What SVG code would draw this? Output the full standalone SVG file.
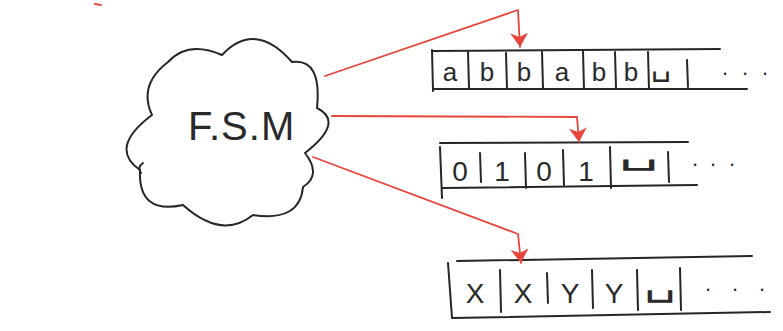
<svg xmlns="http://www.w3.org/2000/svg" width="783" height="331" viewBox="0 0 783 331">
<style>
.ink{fill:none;stroke:#262626;stroke-width:2;stroke-linecap:round;stroke-linejoin:round}
.red{fill:none;stroke:#e8453c;stroke-width:1.8;stroke-linecap:round;stroke-linejoin:round}
.sym{font-family:"Liberation Sans",Arial,sans-serif;fill:#2a2a2a;text-anchor:middle}
.blank{font-family:"DejaVu Sans",sans-serif;fill:#2a2a2a}
</style>
<defs>
<marker id="ah" viewBox="0 -10 16 20" markerWidth="16" markerHeight="20" refX="14" refY="0" orient="auto" markerUnits="userSpaceOnUse">
<path d="M0,-9 L14,0 L0,9 L4,0 Z" fill="#e8453c"/>
</marker>
</defs>
<rect width="783" height="331" fill="#ffffff"/>
<g id="fsm">
<path class="ink" d="M168,62 Q188,40 222,55 Q255,20 292,62 Q322,58 317,108 Q345,122 305,153 Q322,175 303,187 Q300,222 253,215 Q222,240 183,205 Q138,215 140,170 Q108,148 152,115 Q138,85 168,62 Z"/>
<path class="ink" d="M143,163 Q137,167 141,173"/>
<text x="188" y="140" font-family="Liberation Sans, Arial, sans-serif" font-size="40" fill="#2a2a2a" letter-spacing="1">F.S.M</text>
</g>
<g id="tape1">
<path class="ink" d="M433,51 L720,49 M433,89 L747,89 M432,50 L433,91"/>
<path class="ink" d="M468,52 L469,88 M506,53 L507,89 M542,52 L543,88 M583,51 L584,89 M615,52 L616,88 M648,52 L649,89 M687,60 L688,87"/>
<text class="sym" font-size="26" y="81"><tspan x="450">a</tspan><tspan x="487">b</tspan><tspan x="524">b</tspan><tspan x="562">a</tspan><tspan x="599">b</tspan><tspan x="631">b</tspan></text>
<text class="blank" font-size="32" x="651" y="75" textLength="20" lengthAdjust="spacingAndGlyphs">␣</text>
<text class="sym" font-size="22" y="75"><tspan x="725">.</tspan><tspan x="745">.</tspan><tspan x="765">.</tspan></text>
</g>
<g id="tape2">
<path class="ink" d="M440,143 L688,142 M443,188 L697,185 M440,147 L442,198"/>
<path class="ink" d="M480,153 L481,182 M525,153 L526,188 M563,150 L564,185 M610,147 L611,188 M668,152 L669,182"/>
<text class="sym" font-size="28" y="181"><tspan x="460">0</tspan><tspan x="502">1</tspan><tspan x="544">0</tspan><tspan x="586">1</tspan></text>
<text class="blank" font-size="34" x="619" y="163" textLength="40" lengthAdjust="spacingAndGlyphs">␣</text>
<text class="sym" font-size="22" y="166"><tspan x="695">.</tspan><tspan x="713">.</tspan><tspan x="732">.</tspan></text>
</g>
<g id="tape3">
<path class="ink" d="M457,261 L752,256 M452,318 L770,312 M448,263 L452,318"/>
<path class="ink" d="M500,270 L501,312 M547,273 L548,303 M592,270 L593,308 M637,270 L638,310 M680,268 L681,310"/>
<text class="sym" font-size="28" y="303"><tspan x="475">X</tspan><tspan x="523">X</tspan><tspan x="570">Y</tspan><tspan x="614">Y</tspan></text>
<text class="blank" font-size="38" x="644" y="294" textLength="32" lengthAdjust="spacingAndGlyphs">␣</text>
<text class="sym" font-size="22" y="291"><tspan x="708">.</tspan><tspan x="735">.</tspan><tspan x="762">.</tspan></text>
</g>
<g id="connectors">
<path class="red" d="M325,76 L518,10 L520,47" marker-end="url(#ah)"/>
<path class="red" d="M332,116 L577,117 L579,142" marker-end="url(#ah)"/>
<path class="red" d="M313,157 L518,234 L521,263" marker-end="url(#ah)"/>
<path class="red" d="M95,4 L101,5" stroke-width="1.2"/>
</g>
</svg>
